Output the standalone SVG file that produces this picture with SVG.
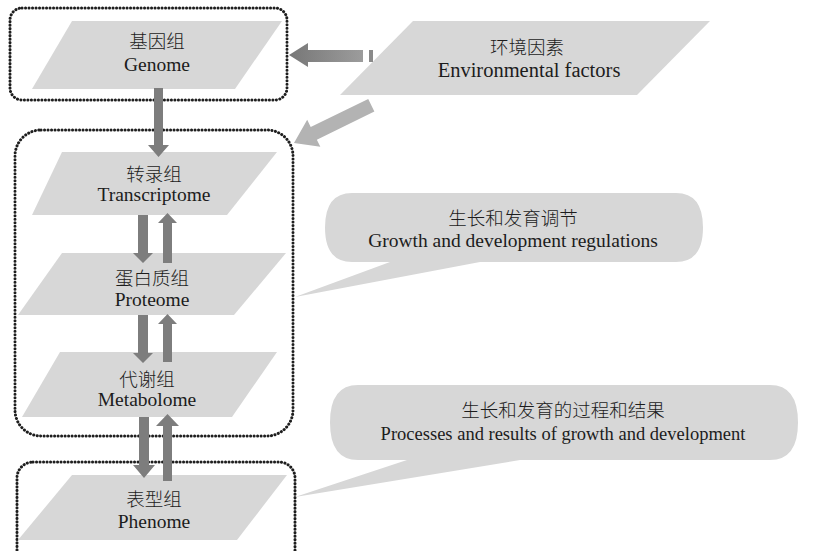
<svg xmlns="http://www.w3.org/2000/svg" width="830" height="551" viewBox="0 0 830 551">
<style>
.shape{fill:#d7d7d7}
.box{fill:none;stroke:#1e1e1e;stroke-width:3;stroke-linecap:round;stroke-dasharray:0.1 3.4}
.arr{fill:#7d7d7d}
.t{font-family:"Liberation Serif","Noto Sans CJK SC",serif;fill:#1c1c1c;text-anchor:middle}
.zh{font-family:"Noto Sans CJK SC","Liberation Serif",sans-serif;font-size:18.5px;font-weight:300}
.en{font-size:19.5px}
</style>
<defs>
<linearGradient id="gh" x1="0" y1="0" x2="1" y2="0">
<stop offset="0" stop-color="#777"/>
<stop offset="1" stop-color="#9c9c9c"/>
</linearGradient>
</defs>
<rect width="830" height="551" fill="#fff"/>

<g id="group-boxes">
<rect class="box" x="10" y="8" width="277" height="92" rx="12"/>
<rect class="box" x="15" y="130" width="278" height="306" rx="26"/>
<rect class="box" x="17" y="462" width="278" height="110" rx="16"/>
</g>

<g id="genome">
<polygon class="shape" points="72,21 282,21 235,89 32,89"/>
<text class="t zh" x="157" y="48">基因组</text>
<text class="t en" x="157" y="71">Genome</text>
</g>

<g id="environment">
<polygon class="shape" points="413,21 710,21 637,95 340,95"/>
<text class="t zh" x="527" y="54">环境因素</text>
<text class="t" x="529" y="77" font-size="20.5">Environmental factors</text>
</g>

<g id="transcriptome">
<polygon class="shape" points="62,152 277,152 227,215 32,215"/>
<text class="t zh" x="154" y="181">转录组</text>
<text class="t en" x="154" y="201">Transcriptome</text>
</g>

<g id="proteome">
<polygon class="shape" points="62,253 286,253 234,315 18,315"/>
<text class="t zh" x="152" y="285">蛋白质组</text>
<text class="t en" x="152" y="306">Proteome</text>
</g>

<g id="metabolome">
<polygon class="shape" points="60,352 277,352 232,417 22,417"/>
<text class="t zh" x="147" y="386">代谢组</text>
<text class="t en" x="147" y="406">Metabolome</text>
</g>

<g id="phenome">
<polygon class="shape" points="72,475 287,475 237,540 18,540"/>
<text class="t zh" x="154" y="506">表型组</text>
<text class="t en" x="154" y="528">Phenome</text>
</g>

<g id="callout-regulation">
<path class="shape" d="M352,193 L676,193 Q703,193 703,227.5 Q703,262 676,262 L480,262 L295,297 L390,262 L352,262 Q325,262 325,227.5 Q325,193 352,193 Z"/>
<text class="t zh" x="513" y="225">生长和发育调节</text>
<text class="t" x="513" y="247" font-size="19.5">Growth and development regulations</text>
</g>

<g id="callout-process">
<path class="shape" d="M358,385 L770,385 Q798,385 798,422.5 Q798,460 770,460 L520,460 L295,497 L407,460 L358,460 Q330,460 330,422.5 Q330,385 358,385 Z"/>
<text class="t zh" x="563" y="417">生长和发育的过程和结果</text>
<text class="t" x="563" y="440" font-size="18.5">Processes and results of growth and development</text>
</g>

<g id="connectors">
<!-- environment to genome -->
<polygon fill="url(#gh)" points="289,55 308,43 308,50 363,50 363,62 308,62 308,67"/>
<rect x="369" y="50" width="4" height="12" fill="#8a8a8a"/>
<!-- environment to middle group -->
<polygon fill="#b3b3b3" transform="translate(294,143) rotate(-26)" points="0,0 22,-15 22,-7 86,-7 86,7 22,7 22,15"/>
<!-- genome to transcriptome -->
<polygon class="arr" points="154,88 163,88 163,145 169,145 158.5,157 148,145 154,145"/>
<!-- transcriptome down to proteome -->
<polygon class="arr" points="138,215 148,215 148,253 153,253 143,263 133,253 138,253"/>
<!-- proteome up to transcriptome -->
<polygon class="arr" points="163,263 172,263 172,223 177,223 167.5,213 158,223 163,223"/>
<!-- proteome down to metabolome -->
<polygon class="arr" points="138,315 148,315 148,353 153,353 143,363 133,353 138,353"/>
<!-- metabolome up to proteome -->
<polygon class="arr" points="163,362 172,362 172,324 177,324 167.5,314 158,324 163,324"/>
<!-- metabolome down to phenome -->
<polygon class="arr" points="139,417 149,417 149,465 155,465 144,478 133,465 139,465"/>
<!-- phenome up to metabolome -->
<polygon class="arr" points="163,481 172,481 172,426 179,426 167.5,414 156,426 163,426"/>
</g>
</svg>
